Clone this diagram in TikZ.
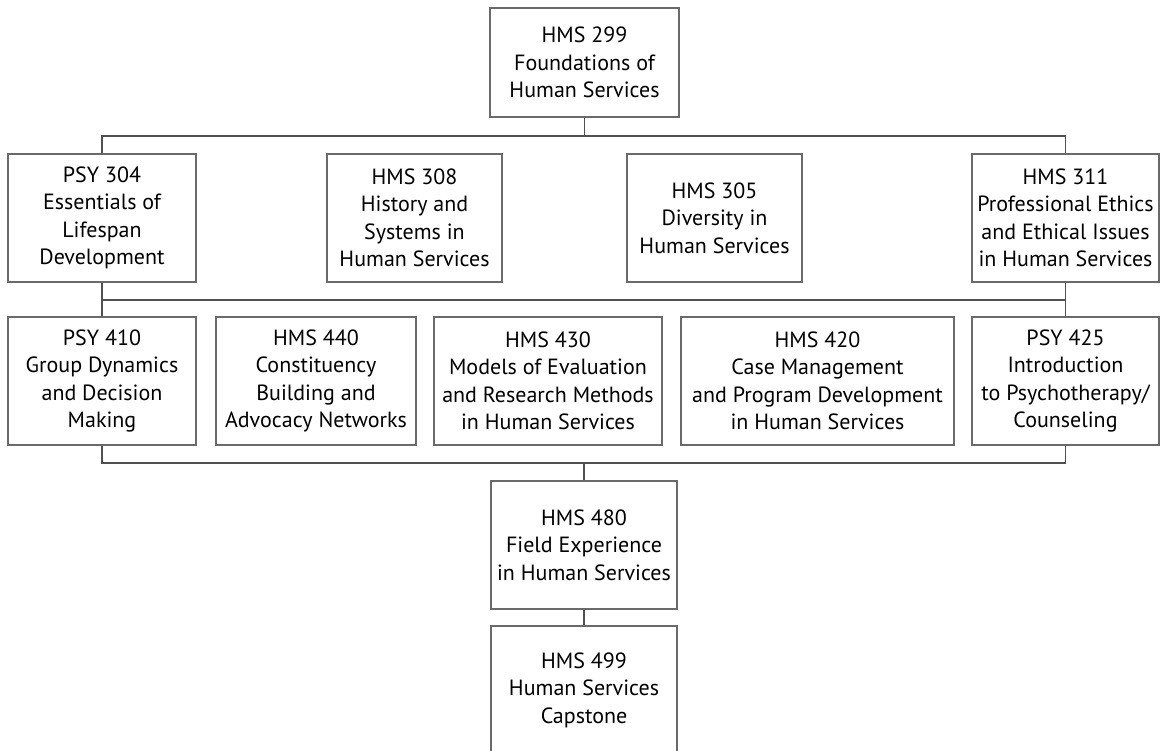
\documentclass[tikz,border=0pt]{standalone}
\usepackage{fontspec}
\setmainfont{PT Sans}
\usepackage{tikz}
\usetikzlibrary{positioning}
\definecolor{boxgray}{HTML}{6A6A6A}
\definecolor{linegray}{HTML}{505050}

\begin{document}
\begin{tikzpicture}[x=1pt,y=-1pt,
    course/.style={draw=boxgray,line width=1.2pt,inner sep=0pt,align=center,
        minimum height=128pt,font=\fontsize{22}{27.5}\selectfont},
    link/.style={draw=linegray,line width=1.2pt}]
\useasboundingbox (0,0) rectangle (1160,751);
\clip (0,0) rectangle (1160,751);
% top
\node [course,minimum width=189pt,minimum height=109pt] (hms299) at (584.5,62.5) {HMS 299\\Foundations of\\Human Services};
% second row
\node [course,minimum width=188pt] (psy304) at (102,218) {PSY 304\\Essentials of\\Lifespan\\Development};
\node [course,minimum width=175pt] (hms308) at (414.5,218) {HMS 308\\History and\\Systems in\\Human Services};
\node [course,minimum width=175pt] (hms305) at (714.5,218) {HMS 305\\Diversity in\\Human Services};
\node [course,minimum width=187pt] (hms311) at (1065.5,218) {HMS 311\\Professional Ethics\\and Ethical Issues\\in Human Services};
% third row
\node [course,minimum width=188pt] (psy410) at (102,381) {PSY 410\\Group Dynamics\\and Decision\\Making};
\node [course,minimum width=200pt] (hms440) at (316,381) {HMS 440\\Constituency\\Building and\\Advocacy Networks};
\node [course,minimum width=228pt] (hms430) at (548,381) {HMS 430\\Models of Evaluation\\and Research Methods\\in Human Services};
\node [course,minimum width=273pt] (hms420) at (817.5,381) {HMS 420\\Case Management\\and Program Development\\in Human Services};
\node [course,minimum width=187pt] (psy425) at (1065.5,381) {PSY 425\\Introduction\\to Psychotherapy/\\Counseling};
% last two
\node [course,minimum width=186pt] (hms480) at (584,545) {HMS 480\\Field Experience\\in Human Services};
\node [course,minimum width=186pt] (hms499) at (584,690) {HMS 499\\Human Services\\Capstone};

\coordinate (busA) at (584.5,136);
\coordinate (busB) at (584.5,300);
\coordinate (busC) at (584,463);
\draw [link] (hms299) -- (busA);
\draw [link] (psy304.north) |- (busA) -| (hms311.north);
\draw [link] (psy304) -- (psy410);
\draw [link] (hms311) -- (psy425);
\draw [link] (psy304.south |- busB) -- (hms311.south |- busB);
\draw [link] (psy410.south) |- (busC) -| (psy425.south);
\draw [link] (busC) -- (hms480);
\draw [link] (hms480) -- (hms499);
\end{tikzpicture}
\end{document}
